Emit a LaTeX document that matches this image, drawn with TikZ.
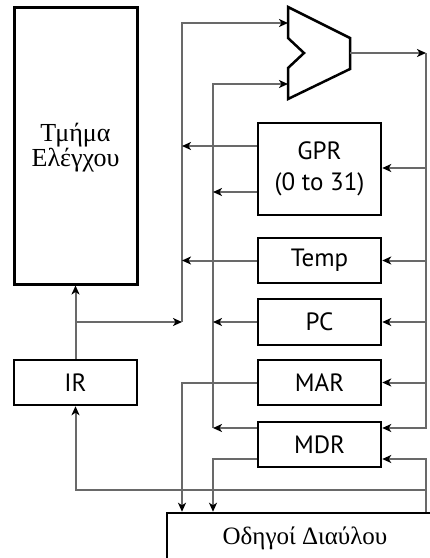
\documentclass[tikz,border=0pt]{standalone}
\usepackage{fontspec}
\setmainfont{Liberation Serif}
\newfontfamily\lblfont{PT Sans}
\usetikzlibrary{arrows.meta}
\definecolor{wirec}{RGB}{105,105,105}
\begin{document}
\begin{tikzpicture}[x=1pt,y=-1pt,
  wire/.style={draw=wirec,line width=2pt},
  tip/.style={-{Stealth[length=9pt,width=8pt,inset=2.5pt,color=black]}},
  reg/.style={draw=black,line width=2.5pt,minimum width=123pt,minimum height=45pt,
    inner sep=0pt,font=\lblfont\fontsize{25}{31}\selectfont,align=center},
  big/.style={draw=black,line width=3pt,minimum width=123pt,inner sep=0pt}]
\useasboundingbox (0,0) rectangle (430,558);
% boxes
\node[big,minimum height=277pt] (ctrl) at (75.5,145.5) {};
\node[font=\fontsize{26}{23}\selectfont,align=center,inner sep=0pt] (ctrltxt) at (75.5,148) {Τμήμα\\Ελέγχου};
\node[reg] (ir) at (75.5,382.5) {IR};
\node[reg,minimum height=92pt] (gpr) at (319.5,169) {GPR\\(0 to 31)};
\node[reg] (temp) at (319.5,260.5) {Temp};
\node[reg,minimum height=46pt] (pc) at (319.5,322) {PC};
\node[reg] (mar) at (319.5,382.5) {MAR};
\node[reg] (mdr) at (319.5,444.5) {MDR};
\node[draw=black,line width=2.5pt,minimum width=276pt,minimum height=50pt,inner sep=0pt,
  font=\fontsize{25}{30}\selectfont] (bus) at (305,538) {Οδηγοί Διαύλου};
% ALU
\coordinate (aluin1) at (288,23);
\coordinate (aluin2) at (288,84);
\coordinate (aluout) at (350,53);
\draw[black,line width=2.5pt,line join=miter] (288,7) -- (350,38) -- (350,69) -- (288,99)
  -- (288,68) -- (304,53) -- (288,38) -- cycle;
% junction coordinates
\coordinate (jir) at (75.5,322);
\coordinate (abot) at (182,322);
\coordinate (atop) at (182,23);
\coordinate (bbot) at (213,428);
\coordinate (btop) at (213,84);
\coordinate (ctop) at (426,53);
\coordinate (cbus) at (426,513);
\coordinate (cir) at (426,490);
\coordinate (irlow) at (75.5,490);
% control unit input from IR
\draw[wire,tip] (ir.north) -- (ctrl.south);
\draw[wire,tip] (jir) -- (abot);
% bus A and bus B to ALU
\draw[wire,tip] (abot) -- (atop) -- (aluin1);
\draw[wire,tip] (bbot) -- (btop) -- (aluin2);
% register outputs
\draw[wire,tip] (gpr.west |- 0,146) -- (182,146);
\draw[wire,tip] (gpr.west |- 0,192) -- (213,192);
\draw[wire,tip] (temp.west) -- (182,260.5);
\draw[wire,tip] (pc.west) -- (213,322);
\draw[wire,tip] (mar.west) -| (bus.north -| abot);
\draw[wire,tip] (mdr.west |- bbot) -- (bbot);
\draw[wire,tip] (mdr.west |- 0,459) -| (bus.north -| btop);
% ALU result bus
\draw[wire,tip] (aluout) -- (ctop);
\draw[wire,tip] (ctop) |- (mdr.east |- 0,428);
\draw[wire,tip] (ctop |- 0,168) -- (gpr.east |- 0,168);
\draw[wire,tip] (ctop |- temp.east) -- (temp.east);
\draw[wire,tip] (ctop |- pc.east) -- (pc.east);
\draw[wire,tip] (ctop |- mar.east) -- (mar.east);
% bus drivers output
\draw[wire,tip] (bus.north -| cbus) |- (mdr.east |- 0,459);
\draw[wire,tip] (cir) -- (irlow) -- (ir.south);
\end{tikzpicture}
\end{document}
